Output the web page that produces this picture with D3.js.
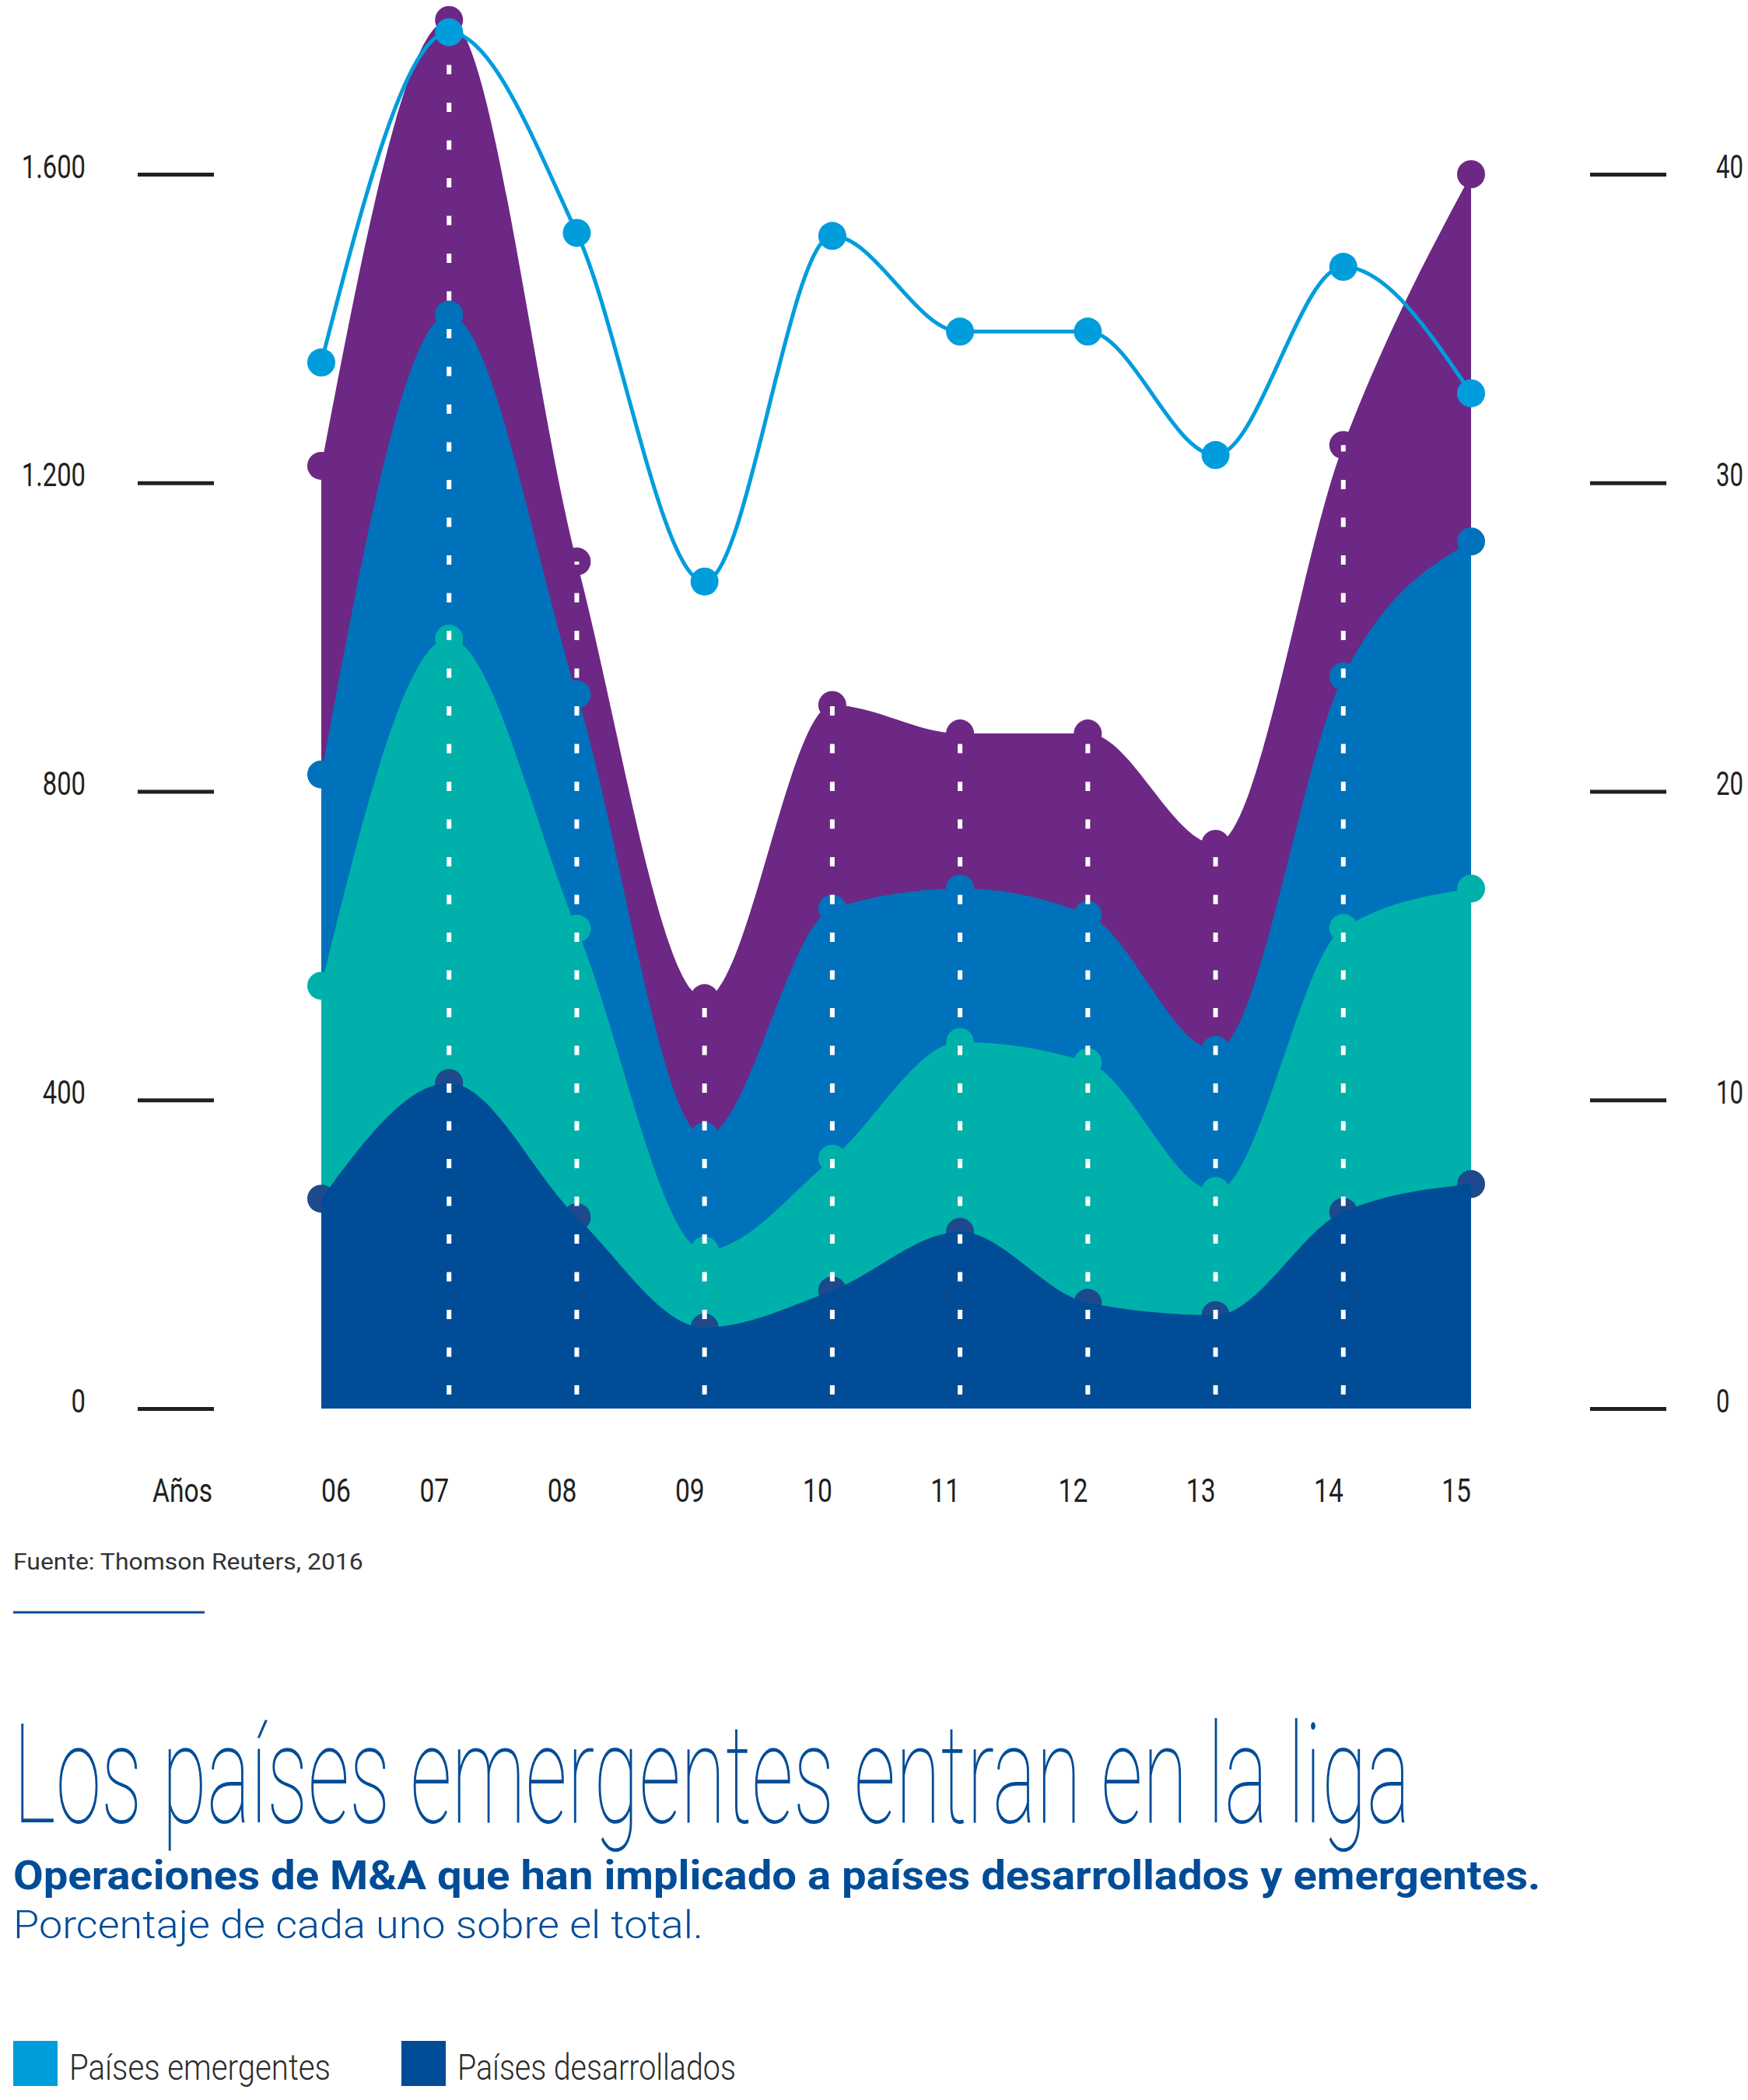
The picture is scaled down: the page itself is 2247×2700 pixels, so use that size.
<!DOCTYPE html>
<html>
<head>
<meta charset="utf-8">
<script src="https://cdn.jsdelivr.net/npm/d3@7"></script>
<style>
  body { margin: 0; background: #fff; }
  svg { display: block; }
  text { font-family: Roboto, "Liberation Sans", sans-serif; }
</style>
</head>
<body>
<script>
/* data */
var years = ["06", "07", "08", "09", "10", "11", "12", "13", "14", "15"];

/* stacked bands, bottom to top */
var bandNavy   = [272, 422, 248, 105, 153, 229, 137, 121, 255, 291];
var bandTeal   = [276, 576, 374, 100, 171, 246, 312, 161, 368, 383];
var bandBlue   = [274, 420, 304, 148, 324, 199, 191, 183, 326, 450];
var bandPurple = [400, 382, 172, 179, 264, 201, 235, 267, 300, 476];

/* line on the right axis (%) */
var emergingPct = [33.9, 44.6, 38.1, 26.8, 38.0, 34.9, 34.9, 30.9, 37.0, 32.9];

var leftTicks = [0, 400, 800, 1200, 1600];
var rightTicks = [0, 10, 20, 30, 40];

var colors = {
    navy: "#004c97",
    navyDot: "#1c4a8d",
    teal: "#00b0aa",
    blue: "#0072bb",
    purple: "#6c2884",
    line: "#009ddc",
    ink: "#231f20",
    title: "#004c97"
};

var W = 2247, H = 2700;

/* squeeze text horizontally, the reference uses a condensed face */
function squeeze(sel, ratio) {
    sel.each(function () {
        var n = this.getComputedTextLength();
        d3.select(this)
            .attr("textLength", n * ratio)
            .attr("lengthAdjust", "spacingAndGlyphs");
    });
}

/* long texts: place at (px, py) and scale x so the line is w wide */
function fitWidth(sel, px, py, w) {
    sel.each(function () {
        var n = this.getComputedTextLength();
        d3.select(this)
            .attr("x", 0)
            .attr("y", 0)
            .attr("transform", "translate(" + px + "," + py + ") scale(" + (w / n) + ",1)");
    });
}

var svg = d3.select("body")
    .append("svg")
    .attr("width", W)
    .attr("height", H);

/* scales */
var x = d3.scalePoint()
    .domain(years)
    .range([413, 1891]);

var y = d3.scaleLinear()
    .domain([0, 1600])
    .range([1811, 224]);

var yRight = d3.scaleLinear()
    .domain([0, 40])
    .range([1811, 224]);

var es = d3.formatLocale({decimal: ",", thousands: ".", grouping: [3], currency: ["", "€"]});
var fmt = es.format(",d");

/* axes */
var leftAxis = d3.axisLeft(y)
    .tickValues(leftTicks)
    .tickSize(98)
    .tickPadding(67)
    .tickFormat(fmt);

var gl = svg.append("g")
    .attr("transform", "translate(275,0)")
    .call(leftAxis);

var rightAxis = d3.axisRight(yRight)
    .tickValues(rightTicks)
    .tickSize(98)
    .tickPadding(64)
    .tickFormat(d3.format("d"));

var gr = svg.append("g")
    .attr("transform", "translate(2044,0)")
    .call(rightAxis);

[gl, gr].forEach(function (g) {
    g.attr("font-family", null).attr("font-size", null);
    g.select(".domain").remove();
    g.selectAll(".tick line")
        .attr("stroke", colors.ink)
        .attr("stroke-width", 5);
    g.selectAll(".tick text")
        .attr("fill", colors.ink)
        .attr("dy", "0.1em")
        .style("font-size", "42px");
});

gl.selectAll(".tick text").call(squeeze, 0.78);

/* right labels: narrow them with a transform so the box stays inside the page */
var rx = 0.74;
gr.selectAll(".tick text")
    .attr("x", (98 + 64) / rx)
    .attr("transform", "scale(" + rx + ",1)");

/* stack */
var rows = years.map(function (yr, i) {
    return {year: yr, navy: bandNavy[i], teal: bandTeal[i], blue: bandBlue[i], purple: bandPurple[i]};
});

var stack = d3.stack().keys(["navy", "teal", "blue", "purple"]);
var series = stack(rows);

var area = d3.area()
    .x(function (d) { return x(d.data.year); })
    .y0(y(0))
    .y1(function (d) { return y(d[1]); })
    .curve(d3.curveMonotoneX);

var dotColor = {navy: colors.navyDot, teal: colors.teal, blue: colors.blue, purple: colors.purple};

/* draw from the top band down: dots first, then the band covering their lower half */
var layers = svg.append("g");
series.slice().reverse().forEach(function (s) {
    layers.append("g")
        .selectAll("circle")
        .data(s)
        .join("circle")
        .attr("cx", function (d) { return x(d.data.year); })
        .attr("cy", function (d) { return y(d[1]); })
        .attr("r", 18)
        .attr("fill", dotColor[s.key]);

    layers.append("path")
        .datum(s)
        .attr("d", area)
        .attr("fill", colors[s.key]);
});

/* white dashed guides, 07 to 14 */
var topSeries = series[series.length - 1];
svg.append("g")
    .selectAll("line")
    .data(topSeries.slice(1, -1))
    .join("line")
    .attr("x1", function (d) { return x(d.data.year); })
    .attr("x2", function (d) { return x(d.data.year); })
    .attr("y1", y(0) - 18)
    .attr("y2", function (d) { return y(d[1]); })
    .attr("stroke", "#fff")
    .attr("stroke-width", 6)
    .attr("stroke-dasharray", "12 36.5");

/* emerging line */
var line = d3.line()
    .x(function (d, i) { return x(years[i]); })
    .y(function (d) { return yRight(d); })
    .curve(d3.curveMonotoneX);

svg.append("path")
    .datum(emergingPct)
    .attr("d", line)
    .attr("fill", "none")
    .attr("stroke", colors.line)
    .attr("stroke-width", 5);

svg.append("g")
    .selectAll("circle")
    .data(emergingPct)
    .join("circle")
    .attr("cx", function (d, i) { return x(years[i]); })
    .attr("cy", function (d) { return yRight(d); })
    .attr("r", 18)
    .attr("fill", colors.line);

/* x labels */
svg.append("text")
    .attr("x", 196)
    .attr("y", 1931)
    .attr("fill", colors.ink)
    .style("font-size", "42px")
    .text("Años")
    .call(squeeze, 0.8);

svg.append("g")
    .selectAll("text")
    .data(years)
    .join("text")
    .attr("x", function (d) { return x(d); })
    .attr("y", 1931)
    .attr("text-anchor", function (d, i) { return i === 0 ? "start" : "end"; })
    .attr("fill", colors.ink)
    .style("font-size", "42px")
    .text(function (d) { return d; })
    .call(squeeze, 0.8);

/* source */
svg.append("text")
    .attr("fill", "#333")
    .style("font-size", "30px")
    .text("Fuente: Thomson Reuters, 2016")
    .call(fitWidth, 17, 2018, 450);

svg.append("line")
    .attr("x1", 17).attr("x2", 263)
    .attr("y1", 2073).attr("y2", 2073)
    .attr("stroke", colors.title)
    .attr("stroke-width", 3);

/* titles */
svg.append("text")
    .attr("fill", colors.title)
    .style("font-weight", 100)
    .style("font-size", "178px")
    .text("Los países emergentes entran en la liga")
    .call(fitWidth, 17, 2343, 1796);

svg.append("text")
    .attr("fill", colors.title)
    .style("font-weight", "bold")
    .style("font-size", "51px")
    .text("Operaciones de M&A que han implicado a países desarrollados y emergentes.")
    .call(fitWidth, 17, 2429, 1964);

svg.append("text")
    .attr("fill", colors.title)
    .style("font-weight", 300)
    .style("font-size", "50px")
    .text("Porcentaje de cada uno sobre el total.")
    .call(fitWidth, 17, 2492, 887);

/* legend */
var legendItems = [
    {label: "Países emergentes", color: colors.line, x: 17, w: 336},
    {label: "Países desarrollados", color: colors.navy, x: 516, w: 358}
];

var lg = svg.append("g");
legendItems.forEach(function (it) {
    lg.append("rect")
        .attr("x", it.x)
        .attr("y", 2624)
        .attr("width", 57)
        .attr("height", 58)
        .attr("fill", it.color);
    lg.append("text")
        .attr("fill", "#2b2b2b")
        .style("font-weight", 300)
        .style("font-size", "46px")
        .text(it.label)
        .call(fitWidth, it.x + 72, 2674, it.w);
});
</script>
</body>
</html>
